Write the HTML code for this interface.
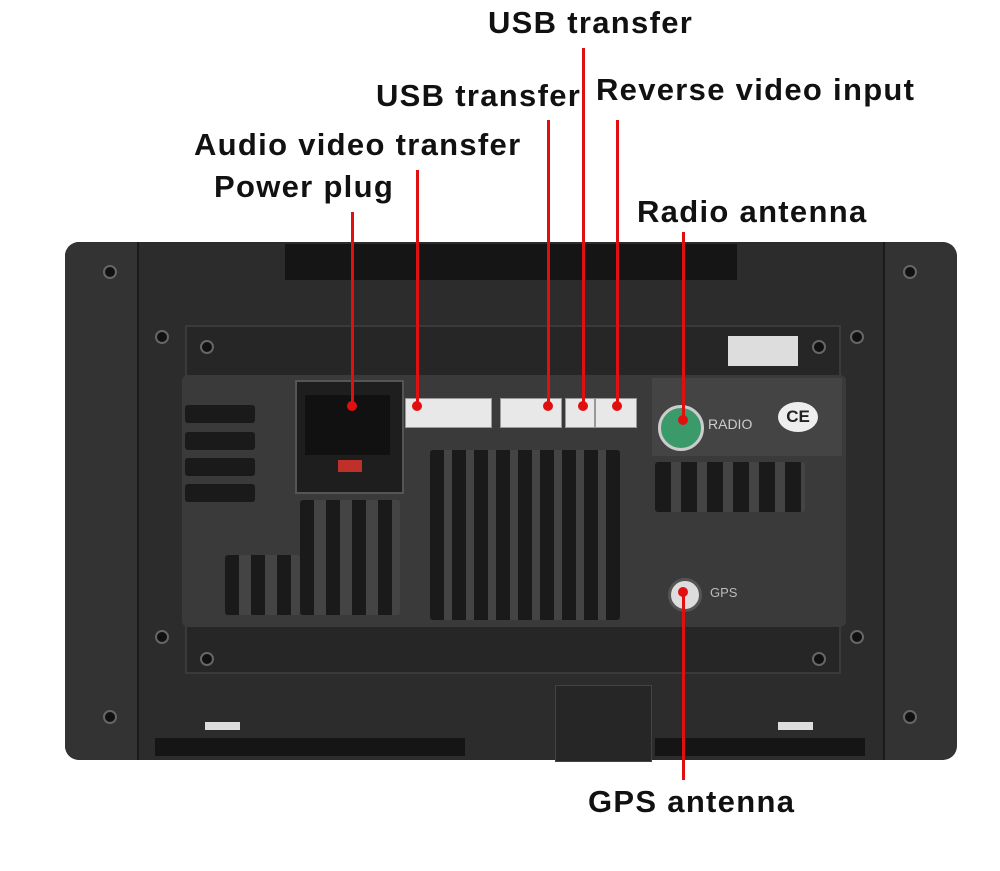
<!DOCTYPE html>
<html><head><style>
body{margin:0;width:1000px;height:871px;background:#fff;position:relative;overflow:hidden;font-family:"Liberation Sans","DejaVu Sans",sans-serif}
.a{position:absolute}
.t{position:absolute;font-weight:bold;font-size:31px;color:#111;white-space:nowrap;line-height:1;letter-spacing:1.3px}
.l{position:absolute;width:3px;background:#e01010}
.d{position:absolute;width:10px;height:10px;border-radius:50%;background:#e01010}
.v{position:absolute;background:#1a1a1a;border-radius:3px}
.c{position:absolute;background:#e8e8e8;border:1px solid #999;height:28px;top:398px}
.s{position:absolute;width:10px;height:10px;border-radius:50%;background:#111;border:2px solid #666}
</style></head><body>
<div class="a" style="left:65px;top:242px;width:890px;height:518px;background:#2c2c2c;border-radius:14px"></div>
<div class="a" style="left:65px;top:242px;width:72px;height:518px;background:#333;border-radius:14px 0 0 14px;border-right:2px solid #1a1a1a"></div>
<div class="a" style="left:883px;top:242px;width:72px;height:518px;background:#333;border-radius:0 14px 14px 0;border-left:2px solid #1a1a1a"></div>
<div class="a" style="left:285px;top:244px;width:452px;height:36px;background:#151515"></div>
<div class="a" style="left:185px;top:325px;width:652px;height:345px;background:#262626;border:2px solid #3a3a3a"></div>
<div class="a" style="left:182px;top:375px;width:664px;height:252px;background:#3a3a3a;border-radius:6px"></div>
<div class="a" style="left:295px;top:380px;width:105px;height:110px;background:#1e1e1e;border:2px solid #555"></div>
<div class="a" style="left:305px;top:395px;width:85px;height:60px;background:#111"></div>
<div class="a" style="left:338px;top:460px;width:24px;height:12px;background:#c0302a"></div>
<div class="a" style="left:652px;top:378px;width:190px;height:78px;background:#444"></div>
<div class="a" style="left:658px;top:405px;width:40px;height:40px;border-radius:50%;background:#3a9a6a;border:3px solid #ccc"></div>
<div class="a" style="left:708px;top:416px;color:#ccc;font-size:14px">RADIO</div>
<div class="a" style="left:778px;top:402px;width:40px;height:30px;border-radius:50%;background:#eee;color:#222;font-size:17px;font-weight:bold;text-align:center;line-height:30px">CE</div>
<div class="a" style="left:728px;top:336px;width:70px;height:30px;background:#ddd"></div>
<div class="a" style="left:668px;top:578px;width:28px;height:28px;border-radius:50%;background:#ddd;border:3px solid #555"></div>
<div class="a" style="left:710px;top:585px;color:#bbb;font-size:13px">GPS</div>
<div class="c" style="left:405px;width:85px"></div>
<div class="c" style="left:500px;width:60px"></div>
<div class="c" style="left:565px;width:28px"></div>
<div class="c" style="left:595px;width:40px"></div>
<div class="v" style="left:185px;top:405px;width:70px;height:18px"></div>
<div class="v" style="left:185px;top:432px;width:70px;height:18px"></div>
<div class="v" style="left:185px;top:458px;width:70px;height:18px"></div>
<div class="v" style="left:185px;top:484px;width:70px;height:18px"></div>
<div class="v" style="left:430px;top:450px;width:190px;height:170px;background:repeating-linear-gradient(90deg,#1a1a1a 0 14px,#444 14px 22px)"></div>
<div class="v" style="left:300px;top:500px;width:100px;height:115px;background:repeating-linear-gradient(90deg,#1a1a1a 0 14px,#444 14px 26px)"></div>
<div class="v" style="left:225px;top:555px;width:75px;height:60px;background:repeating-linear-gradient(90deg,#1a1a1a 0 14px,#444 14px 26px)"></div>
<div class="v" style="left:655px;top:462px;width:150px;height:50px;background:repeating-linear-gradient(90deg,#1a1a1a 0 16px,#444 16px 26px)"></div>
<div class="a" style="left:555px;top:685px;width:95px;height:75px;background:#262626;border:1px solid #444"></div>
<div class="a" style="left:155px;top:738px;width:310px;height:18px;background:#151515"></div>
<div class="a" style="left:655px;top:738px;width:210px;height:18px;background:#151515"></div>
<div class="a" style="left:205px;top:722px;width:35px;height:8px;background:#ddd"></div>
<div class="a" style="left:778px;top:722px;width:35px;height:8px;background:#ddd"></div>
<div class="s" style="left:103px;top:265px"></div><div class="s" style="left:903px;top:265px"></div>
<div class="s" style="left:103px;top:710px"></div><div class="s" style="left:903px;top:710px"></div>
<div class="s" style="left:200px;top:340px"></div><div class="s" style="left:812px;top:340px"></div>
<div class="s" style="left:200px;top:652px"></div><div class="s" style="left:812px;top:652px"></div>
<div class="s" style="left:155px;top:330px"></div><div class="s" style="left:850px;top:330px"></div>
<div class="s" style="left:155px;top:630px"></div><div class="s" style="left:850px;top:630px"></div>
<div class="t" style="left:488px;top:7px">USB transfer</div>
<div class="t" style="left:376px;top:80px">USB transfer</div>
<div class="t" style="left:596px;top:74px">Reverse video input</div>
<div class="t" style="left:194px;top:129px">Audio video transfer</div>
<div class="t" style="left:214px;top:171px">Power plug</div>
<div class="t" style="left:637px;top:196px">Radio antenna</div>
<div class="t" style="left:588px;top:786px">GPS antenna</div>
<div class="l" style="left:351px;top:212px;height:193px"></div><div class="d" style="left:347px;top:401px"></div>
<div class="l" style="left:416px;top:170px;height:235px"></div><div class="d" style="left:412px;top:401px"></div>
<div class="l" style="left:547px;top:120px;height:285px"></div><div class="d" style="left:543px;top:401px"></div>
<div class="l" style="left:582px;top:48px;height:357px"></div><div class="d" style="left:578px;top:401px"></div>
<div class="l" style="left:616px;top:120px;height:285px"></div><div class="d" style="left:612px;top:401px"></div>
<div class="l" style="left:682px;top:232px;height:188px"></div><div class="d" style="left:678px;top:415px"></div>
<div class="l" style="left:682px;top:590px;height:190px"></div><div class="d" style="left:678px;top:587px"></div>
</body></html>
